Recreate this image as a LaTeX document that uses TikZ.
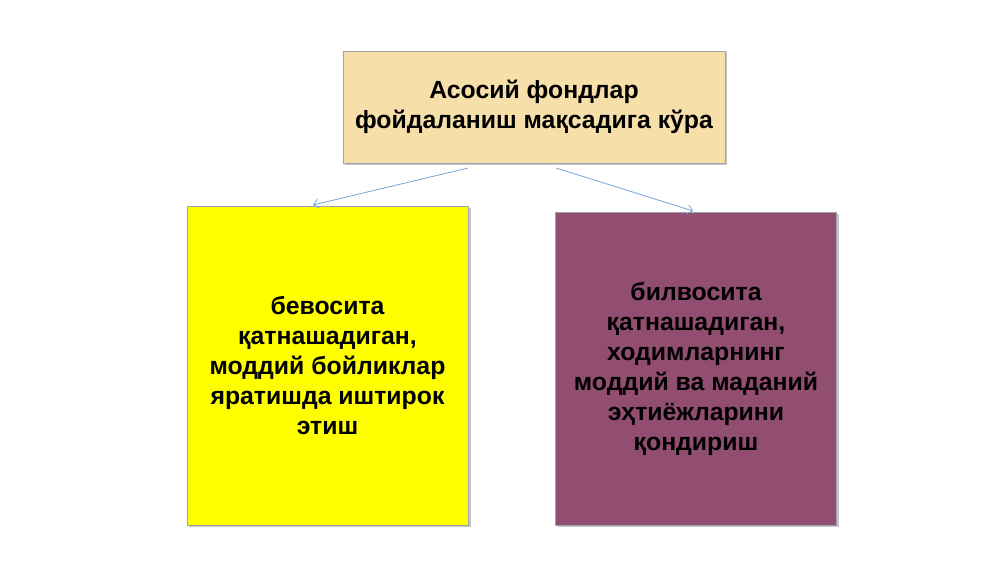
\documentclass[tikz,border=0pt]{standalone}
\usepackage{fontspec}
\setmainfont{Liberation Sans}
\usetikzlibrary{arrows.meta}
\definecolor{tanfill}{RGB}{247,223,170}
\definecolor{yelfill}{RGB}{255,255,0}
\definecolor{purfill}{RGB}{146,78,112}
\definecolor{boxline}{RGB}{160,160,175}
\definecolor{arrowcol}{RGB}{120,165,215}
\tikzset{
  card/.style={draw=boxline, line width=0.8pt, inner sep=0pt, align=center,
    font=\fontsize{24.8}{30}\selectfont\bfseries, text=black},
  shadowbox/.style={fill=black!22, draw=none},
  conn/.style={draw=arrowcol, line width=0.8pt, -{Straight Barb[length=5pt,width=9pt]}}
}
\begin{document}
\begin{tikzpicture}[x=1pt,y=-1pt]
\useasboundingbox (0,0) rectangle (1000,562);
\fill[white] (0,0) rectangle (1000,562);
% shadows
\fill[shadowbox] (345,52) rectangle (727,165);
\fill[shadowbox] (189,208) rectangle (471,527);
\fill[shadowbox] (558,214) rectangle (839,527);
% boxes
\node[card, fill=tanfill, minimum width=382pt, minimum height=112pt] (top) at (534,107)
  {Асосий фондлар\\фойдаланиш мақсадига кўра};
\node[card, fill=yelfill, minimum width=281pt, minimum height=319pt] (left) at (327.5,365.5)
  {бевосита\\қатнашадиган,\\моддий бойликлар\\яратишда иштирок\\этиш};
\node[card, fill=purfill, minimum width=281pt, minimum height=313pt] (right) at (696,368.5)
  {билвосита\\қатнашадиган,\\ходимларнинг\\моддий ва маданий\\эҳтиёжларини\\қондириш};
% connectors
\coordinate (s1) at (468,168);
\coordinate (s2) at (556,168);
\coordinate (e1) at (313,205);
\coordinate (e2) at (693,211);
\draw[conn] (s1) -- (e1);
\draw[conn] (s2) -- (e2);
\end{tikzpicture}
\end{document}
